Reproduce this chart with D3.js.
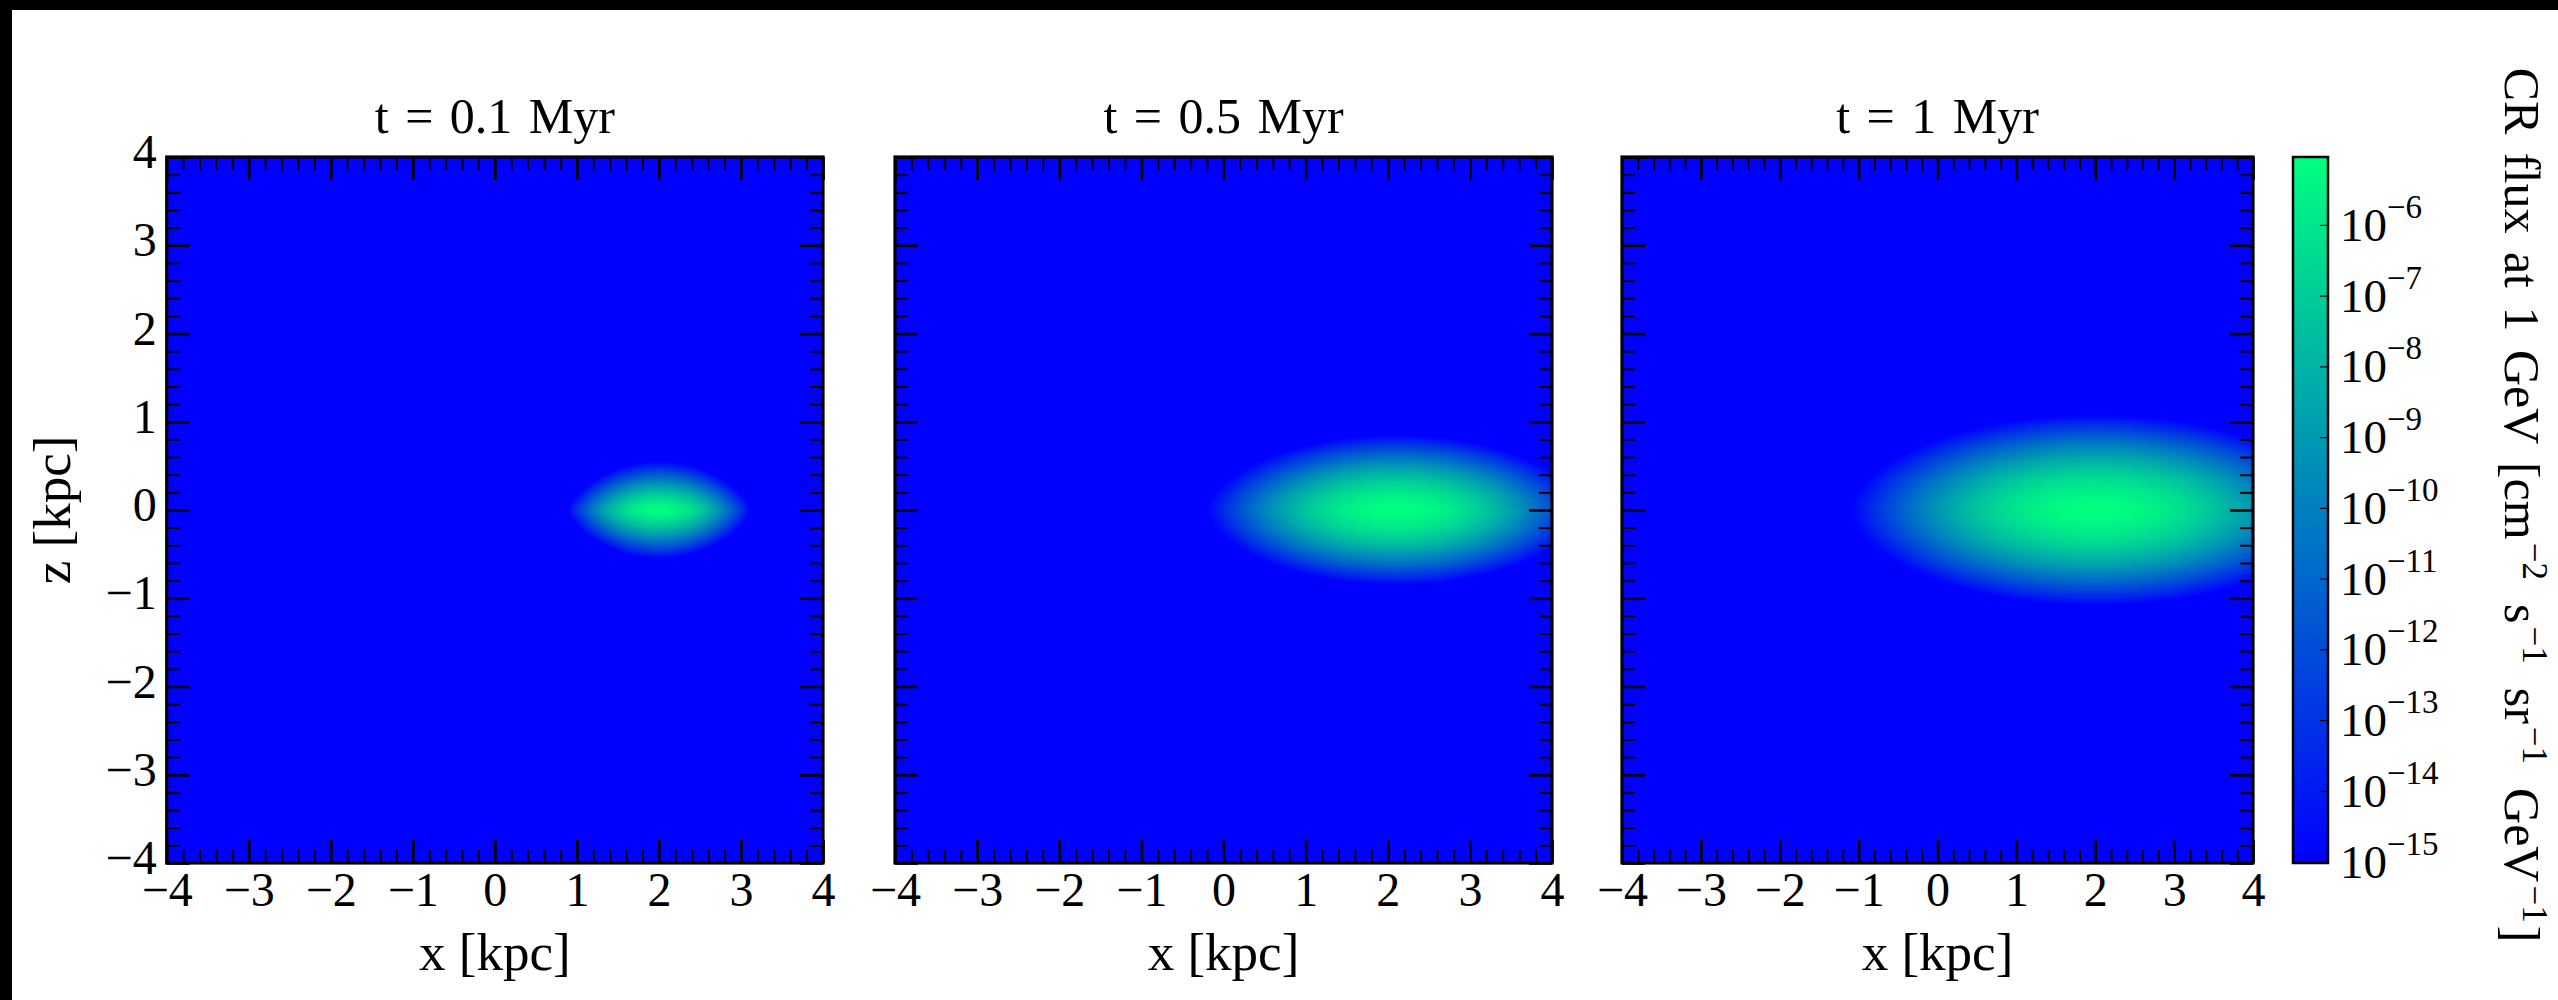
<!DOCTYPE html>
<html>
<head>
<meta charset="utf-8">
<script src="https://cdn.jsdelivr.net/npm/d3@7"></script>
<style>
  body { margin: 0; background: #fff; }
  svg text { font-family: "Liberation Serif", "DejaVu Serif", serif; fill: #000; }
</style>
</head>
<body>
<svg id="chart" width="2558" height="1000"></svg>
<script>
// panel titles (time after injection, Myr)
const panelTimes = ["0.1", "0.5", "1"];
// blob: centre, half-extent where flux drops to the colour floor,
// and how pointed the ends look (2 = plain ellipse)
const blobCenterX = [2.0, 2.1, 2.0];
const blobCenterZ = [0.0, 0.0, 0.0];
const blobHalfX = [1.12, 2.3, 3.1];
const blobHalfZ = [0.55, 0.85, 1.08];
const blobZShape = [1.4, 1.7, 1.8];
const peakLogFlux = [-5.04, -5.04, -5.04];
// axes
const axisTicks = [-4, -3, -2, -1, 0, 1, 2, 3, 4];
const cbarExponents = [-6, -7, -8, -9, -10, -11, -12, -13, -14, -15];
const cbarLogRange = [-15.02, -5.04];

const svg = d3.select('#chart');
const fmt = d => d < 0 ? '\u2212' + Math.abs(d) : String(d);

// layout
const plotTop = 157, plotBottom = 863;
const panels = [
  { left: 166.7, right: 823 },
  { left: 895, right: 1552 },
  { left: 1622, right: 2253 }
];
const majorLen = 23, minorLen = 13;
const minorTicks = d3.range(-4, 4.0001, 0.2).filter(v => Math.abs(v - Math.round(v)) > 1e-6);

// matplotlib "winter" colour map
const color = d3.scaleSequential(d3.interpolateRgb('rgb(0,0,255)', 'rgb(0,255,128)'))
  .domain(cbarLogRange)
  .clamp(true);

// black frame strips of the screenshot
svg.append('rect').attr('x', 0).attr('y', 0).attr('width', 2558).attr('height', 10).attr('fill', '#000');
svg.append('rect').attr('x', 0).attr('y', 0).attr('width', 12).attr('height', 1000).attr('fill', '#000');

panels.forEach((p, i) => {
  const x = d3.scaleLinear().domain([-4, 4]).range([p.left, p.right]);
  const y = d3.scaleLinear().domain([-4, 4]).range([plotBottom, plotTop]);
  const g = svg.append('g');

  // heat map on a canvas, sampled through the scales
  const w = Math.round(p.right - p.left), h = plotBottom - plotTop;
  const canvas = document.createElement('canvas');
  canvas.width = w; canvas.height = h;
  const ctx = canvas.getContext('2d');
  const img = ctx.createImageData(w, h);
  const peak = peakLogFlux[i], floor = cbarLogRange[0];
  for (let py = 0; py < h; py++) {
    const zv = y.invert(plotTop + py + 0.5);
    for (let px = 0; px < w; px++) {
      const xv = x.invert(p.left + px + 0.5);
      const dx = (xv - blobCenterX[i]) / blobHalfX[i];
      const dz = Math.abs(zv - blobCenterZ[i]) / blobHalfZ[i];
      const v = peak - (peak - floor) * (dx * dx + Math.pow(dz, blobZShape[i]));
      const c = d3.rgb(color(v));
      const k = (py * w + px) * 4;
      img.data[k] = c.r; img.data[k + 1] = c.g; img.data[k + 2] = c.b; img.data[k + 3] = 255;
    }
  }
  ctx.putImageData(img, 0, 0);
  g.append('image')
    .attr('x', p.left).attr('y', plotTop)
    .attr('width', p.right - p.left).attr('height', h)
    .attr('preserveAspectRatio', 'none')
    .attr('href', canvas.toDataURL());

  // ticks on all four sides, pointing inward
  const sides = [
    [d3.axisBottom, x, `translate(0,${plotBottom})`, true],
    [d3.axisTop, x, `translate(0,${plotTop})`, false],
    [d3.axisLeft, y, `translate(${p.left},0)`, i === 0],
    [d3.axisRight, y, `translate(${p.right},0)`, false]
  ];
  sides.forEach(([axisFn, sc, tr, labels], si) => {
    const mn = g.append('g').attr('transform', tr)
      .call(axisFn(sc).tickValues(minorTicks).tickSize(-minorLen).tickFormat(''));
    mn.select('.domain').remove();
    mn.selectAll('line').attr('stroke', '#000').attr('stroke-width', 2);

    const a = g.append('g').attr('transform', tr)
      .call(axisFn(sc).tickValues(axisTicks).tickSize(-majorLen).tickPadding(labels ? (si === 0 ? 9 : 10) : 0)
        .tickFormat(labels ? fmt : ''));
    a.select('.domain').remove();
    a.selectAll('line').attr('stroke', '#000').attr('stroke-width', 2.7);
    a.selectAll('text').attr('font-family', '"Liberation Serif", serif').attr('font-size', 48).attr('fill', '#000');
    if (si === 2) a.selectAll('text').attr('dy', '0.22em');
  });

  // frame
  g.append('rect')
    .attr('x', p.left).attr('y', plotTop)
    .attr('width', p.right - p.left).attr('height', plotBottom - plotTop)
    .attr('fill', 'none').attr('stroke', '#000').attr('stroke-width', 3.2);

  const cx = (p.left + p.right) / 2;
  g.append('text')
    .attr('x', cx).attr('y', 133)
    .attr('text-anchor', 'middle').attr('font-size', 50)
    .attr('word-spacing', 4)
    .text(`t = ${panelTimes[i]} Myr`);
  g.append('text')
    .attr('x', cx).attr('y', 970)
    .attr('text-anchor', 'middle').attr('font-size', 53)
    .text('x [kpc]');
});

// y label
svg.append('text')
  .attr('transform', `translate(70,${(plotTop + plotBottom) / 2}) rotate(-90)`)
  .attr('text-anchor', 'middle').attr('font-size', 53)
  .text('z [kpc]');

// colour bar
const cbLeft = 2293, cbRight = 2328;
const cy = d3.scaleLinear().domain(cbarLogRange).range([plotBottom, plotTop]);
const grad = svg.append('defs').append('linearGradient')
  .attr('id', 'cbgrad').attr('x1', 0).attr('y1', 1).attr('x2', 0).attr('y2', 0);
d3.range(0, 1.0001, 0.1).forEach(t => {
  const v = cbarLogRange[0] + t * (cbarLogRange[1] - cbarLogRange[0]);
  grad.append('stop').attr('offset', t).attr('stop-color', color(v));
});
svg.append('rect')
  .attr('x', cbLeft).attr('y', plotTop).attr('width', cbRight - cbLeft).attr('height', plotBottom - plotTop)
  .attr('fill', 'url(#cbgrad)');
const cbAxis = svg.append('g').attr('transform', `translate(${cbRight},0)`)
  .call(d3.axisRight(cy).tickValues(cbarExponents).tickSize(-8).tickFormat(''));
cbAxis.select('.domain').remove();
cbAxis.selectAll('line').attr('stroke', '#000').attr('stroke-width', 1.2);
svg.append('rect')
  .attr('x', cbLeft).attr('y', plotTop).attr('width', cbRight - cbLeft).attr('height', plotBottom - plotTop)
  .attr('fill', 'none').attr('stroke', '#000').attr('stroke-width', 2.5);

const cbLabels = svg.append('g');
cbarExponents.forEach(e => {
  const t = cbLabels.append('text')
    .attr('x', 2340).attr('y', cy(e) + 16).attr('font-size', 47);
  t.append('tspan').text('10');
  t.append('tspan').attr('dy', -23).attr('font-size', 33).text('\u2212' + Math.abs(e));
});

// colour bar title, rotated
const cbTitle = svg.append('text')
  .attr('transform', `translate(2505,${(plotTop + plotBottom) / 2 - 5}) rotate(90)`)
  .attr('text-anchor', 'middle').attr('font-size', 50)
  .attr('word-spacing', 6);
const parts = [
  ['CR flux at 1 GeV [cm', false], ['\u22122', true], ['s', false], ['\u22121', true],
  ['sr', false], ['\u22121', true], ['GeV', false], ['\u22121', true], [']', false]
];
parts.forEach(([txt, sup]) => {
  const ts = cbTitle.append('tspan').text(txt);
  if (sup) ts.attr('dy', -18).attr('font-size', 35).attr('dx', 3);
  else if (txt !== parts[0][0]) ts.attr('dy', 18).attr('dx', txt === ']' ? 3 : 24);
});
</script>
</body>
</html>
